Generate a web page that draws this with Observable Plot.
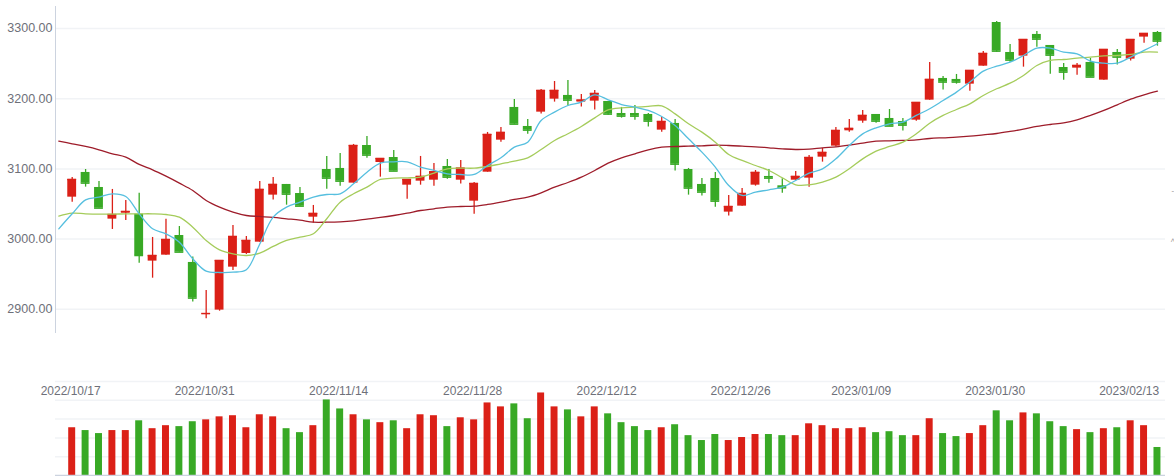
<!DOCTYPE html>
<html><head><meta charset="utf-8">
<script src="https://cdn.jsdelivr.net/npm/d3@7"></script>
<script src="https://cdn.jsdelivr.net/npm/@observablehq/plot@0.6"></script>
<style>
html,body{margin:0;padding:0;background:#fff;}
#chart{position:relative;width:1174px;height:476px;overflow:hidden;font-family:"Liberation Sans",Arial,sans-serif;}
#chart svg{position:absolute;left:0;}
</style></head><body><div id="chart"></div>
<script>
// ---- data ----
const dates = [
"2022/10/17","2022/10/18","2022/10/19","2022/10/20","2022/10/21","2022/10/24","2022/10/25","2022/10/26","2022/10/27","2022/10/28","2022/10/31",
"2022/11/01","2022/11/02","2022/11/03","2022/11/04","2022/11/07","2022/11/08","2022/11/09","2022/11/10","2022/11/11","2022/11/14","2022/11/15","2022/11/16","2022/11/17","2022/11/18","2022/11/21","2022/11/22","2022/11/23","2022/11/24","2022/11/25","2022/11/28","2022/11/29","2022/11/30",
"2022/12/01","2022/12/02","2022/12/05","2022/12/06","2022/12/07","2022/12/08","2022/12/09","2022/12/12","2022/12/13","2022/12/14","2022/12/15","2022/12/16","2022/12/19","2022/12/20","2022/12/21","2022/12/22","2022/12/23","2022/12/26","2022/12/27","2022/12/28","2022/12/29","2022/12/30",
"2023/01/03","2023/01/04","2023/01/05","2023/01/06","2023/01/09","2023/01/10","2023/01/11","2023/01/12","2023/01/13","2023/01/16","2023/01/17","2023/01/18","2023/01/19","2023/01/20","2023/01/30","2023/01/31",
"2023/02/01","2023/02/02","2023/02/03","2023/02/06","2023/02/07","2023/02/08","2023/02/09","2023/02/10","2023/02/13","2023/02/14","2023/02/15"];

const opens = [3059.7,3094.9,3073.5,3028.4,3036.9,3035.5,2968.6,2977.1,3005.1,2966.7,
2893.2,2898.8,2960.0,2979.5,2995.6,3062.6,3077.8,3064.9,3031.2,3099.1,
3100.6,3079.7,3133.3,3109.1,3116.2,3076.8,3082.5,3083.9,3103.4,3083.9,
3054.0,3095.3,3140.9,3187.5,3160.4,3180.8,3199.3,3204.6,3195.1,3196.5,
3196.0,3178.9,3178.9,3177.5,3155.2,3164.7,3099.1,3077.8,3086.3,3038.4,
3046.9,3076.8,3089.2,3075.9,3083.9,3086.8,3116.7,3132.4,3154.2,3168.0,
3177.5,3171.8,3167.5,3169.4,3197.9,3228.8,3227.4,3220.7,3246.3,3308.5,
3265.8,3260.6,3291.5,3275.8,3244.4,3243.5,3251.6,3226.4,3265.8,3256.3,
3287.7,3294.3];
const closes = [3084.9,3079.7,3044.1,3035.0,3039.3,2976.6,2976.6,2999.4,2981.4,2915.9,
2893.9,2969.5,3003.7,2998.0,3070.7,3077.8,3064.0,3046.9,3036.5,3086.8,
3082.5,3133.3,3119.6,3114.8,3096.8,3084.9,3089.2,3095.8,3088.2,3101.0,
3079.2,3149.0,3151.9,3163.7,3155.2,3211.7,3211.7,3197.9,3197.9,3207.4,
3178.0,3175.1,3175.1,3168.0,3167.5,3106.7,3072.6,3066.9,3054.0,3046.4,
3064.9,3094.9,3086.8,3073.0,3089.2,3116.2,3123.4,3154.7,3157.6,3176.1,
3168.0,3160.9,3162.3,3194.6,3227.4,3223.6,3223.6,3240.2,3264.4,3267.7,
3254.9,3284.3,3284.8,3262.0,3237.8,3247.3,3230.7,3270.1,3259.2,3284.3,
3292.9,3282.0];
const highs = [3087.7,3099.1,3082.0,3070.7,3055.0,3065.4,3002.3,3028.4,3017.9,2974.3,
2926.8,2969.5,3019.4,3003.7,3082.0,3087.7,3077.8,3073.5,3047.9,3117.7,
3121.9,3134.8,3146.2,3114.8,3126.2,3084.9,3117.7,3107.7,3113.4,3112.0,
3080.6,3151.9,3159.0,3198.9,3170.4,3213.1,3224.5,3225.9,3206.0,3211.7,
3196.0,3187.5,3190.3,3178.9,3173.2,3170.4,3100.6,3086.3,3094.9,3062.1,
3072.1,3097.7,3099.1,3085.8,3096.3,3119.1,3129.1,3159.0,3170.4,3183.2,
3177.5,3184.6,3171.8,3194.6,3251.6,3231.6,3234.5,3240.2,3267.2,3310.0,
3277.2,3284.3,3295.7,3275.8,3250.1,3250.1,3257.3,3270.1,3270.1,3284.3,
3292.9,3295.7];
const lows = [3052.6,3074.0,3044.1,3013.7,3026.5,2965.7,2944.3,2977.1,2981.4,2910.2,
2886.4,2897.3,2955.3,2978.1,2995.6,3055.5,3048.3,3046.9,3022.7,3071.1,
3075.4,3079.7,3115.3,3088.2,3096.8,3056.9,3076.8,3075.4,3085.4,3078.3,
3035.5,3095.3,3138.1,3163.7,3149.5,3178.0,3195.1,3189.4,3188.0,3183.7,
3176.5,3172.3,3169.4,3159.5,3152.3,3096.8,3062.6,3061.2,3045.5,3032.7,
3046.9,3075.4,3079.7,3065.4,3083.9,3074.0,3109.6,3131.0,3152.3,3165.1,
3165.1,3160.9,3153.8,3168.0,3197.9,3212.2,3220.7,3210.7,3246.3,3266.3,
3252.0,3244.9,3273.4,3234.9,3226.4,3233.5,3230.7,3226.4,3247.8,3253.5,
3279.1,3274.8];
const volumes = [254,239,223,239,239,291,249,265,260,286,
296,312,318,254,323,312,249,228,265,402,
354,323,296,281,291,249,323,318,260,307,
296,386,365,381,302,439,365,349,312,365,
328,281,260,239,254,270,212,186,218,186,
202,218,218,212,212,275,265,249,249,254,
228,233,212,212,302,223,207,223,265,344,
291,333,328,286,260,244,228,249,254,291,
265,149];

// moving averages, first value is the session before 2022/10/17
const ma5 = [3014.6,3036.0,3055.9,3059.7,3064.5,3060.7,3036.0,3014.6,3007.5,2995.6,2971.9,
2954.3,2952.4,2952.9,2956.2,2993.0,3031.2,3045.5,3052.6,3059.7,3063.5,
3064.5,3078.7,3095.3,3108.2,3110.1,3110.1,3102.5,3097.7,3093.0,3092.0,
3092.0,3104.8,3115.8,3131.0,3138.1,3169.0,3180.8,3190.3,3195.1,3205.5,
3198.4,3191.7,3187.9,3183.2,3174.6,3161.8,3142.8,3123.8,3102.5,3076.4,
3062.1,3066.9,3070.2,3074.0,3083.5,3093.9,3100.1,3114.3,3133.3,3149.9,
3158.5,3164.2,3166.6,3176.1,3185.6,3197.4,3209.3,3223.6,3239.2,3246.3,
3252.0,3261.5,3272.0,3272.0,3266.3,3263.9,3253.5,3250.6,3250.6,3259.2,
3268.7,3278.2];
const ma10 = [3032.7,3036.9,3036.0,3035.5,3035.5,3036.0,3036.0,3036.0,3035.0,3031.2,3017.0,
2998.0,2984.7,2979.0,2976.6,2980.0,2989.5,2998.0,3002.8,3007.5,3028.9,
3052.6,3064.5,3074.0,3084.9,3086.8,3087.3,3088.2,3093.9,3100.1,3101.0,
3101.0,3103.4,3107.2,3111.0,3115.8,3127.6,3140.5,3150.0,3160.4,3172.7,
3184.1,3187.0,3187.9,3188.9,3189.8,3178.4,3164.2,3152.3,3138.1,3120.5,
3112.0,3104.8,3097.7,3087.3,3077.3,3077.3,3081.1,3088.2,3100.1,3114.3,
3125.3,3131.9,3138.1,3150.0,3165.1,3176.1,3184.6,3192.7,3204.6,3214.1,
3222.1,3233.0,3247.3,3254.4,3255.8,3257.7,3259.2,3261.1,3261.5,3263.0,
3266.3,3266.3];
const ma60 = [3139.5,3135.7,3131.9,3127.2,3121.5,3116.7,3106.3,3098.7,3089.6,3079.7,3069.2,
3055.0,3045.5,3038.4,3033.6,3032.2,3030.8,3028.9,3027.0,3024.1,3024.1,
3024.6,3026.0,3028.4,3030.8,3033.6,3036.9,3040.7,3043.1,3045.5,3046.4,
3046.9,3049.3,3052.6,3056.4,3059.7,3065.9,3074.0,3080.6,3088.2,3097.7,
3108.2,3115.8,3121.5,3127.2,3131.0,3131.9,3132.4,3132.9,3133.8,3133.3,
3132.4,3131.4,3130.0,3128.6,3127.6,3128.1,3130.0,3131.4,3133.8,3136.7,
3139.5,3140.0,3140.5,3141.4,3143.3,3144.3,3145.2,3146.6,3148.5,3150.4,
3153.3,3156.6,3160.4,3163.2,3165.6,3169.9,3176.1,3183.2,3191.3,3199.3,
3205.5,3210.7];

const priceTicks = [2900, 3000, 3100, 3200, 3300];
const dateTicks = ["2022/10/17","2022/10/31","2022/11/14","2022/11/28","2022/12/12","2022/12/26","2023/01/09","2023/01/30","2023/02/13"];
const volTicks = [100, 200, 300, 400, 500];
const edgeMarks = [{v: 3064.9, t: "ˇ"}, {v: 2998.0, t: "˄"}];

// ---- build ----
const UP = "#db2017", DOWN = "#38a925";
const TXT = "#6e7079", GRID = "#f1f3f6", AXIS = "#ccd3df";
const xDomain = [-1.246, 81.6];

const candles = dates.map((d, i) => ({i, date: d, open: opens[i], close: closes[i], high: highs[i], low: lows[i], vol: volumes[i], up: closes[i] >= opens[i]}));
const maRows = ma5.map((v, k) => ({i: k - 1, ma5: v, ma10: ma10[k], ma60: ma60[k]}));
const col = d => d.up ? UP : DOWN;
const bw = 0.33, vw = 0.26;

const price = Plot.plot({
  width: 1174, height: 340,
  marginLeft: 55, marginRight: 9, marginTop: 6, marginBottom: 7,
  style: {fontFamily: '"Liberation Sans", Arial, sans-serif', background: "transparent"},
  x: {domain: xDomain, axis: null},
  y: {domain: [2865.5, 3331.3], axis: null},
  marks: [
    Plot.ruleY(priceTicks, {stroke: GRID, strokeWidth: 1.5}),
    Plot.ruleX([xDomain[0]], {stroke: AXIS, strokeWidth: 1}),
    Plot.axisY({ticks: priceTicks, tickFormat: d => d.toFixed(2), tickSize: 0, tickPadding: 3, fontSize: 12.5, color: TXT}),
    Plot.ruleX(candles, {x: "i", y1: "low", y2: "high", stroke: col, strokeWidth: 1.3}),
    Plot.rect(candles, {x1: d => d.i - bw, x2: d => d.i + bw, y1: "open", y2: "close", fill: col}),
    Plot.ruleY(candles, {y: "close", x1: d => d.i - bw, x2: d => d.i + bw, stroke: col, strokeWidth: 1.5}),
    Plot.line(maRows, {x: "i", y: "ma60", stroke: "#9e1c2a", strokeWidth: 1.3, curve: "catmull-rom"}),
    Plot.line(maRows, {x: "i", y: "ma10", stroke: "#a5cc5b", strokeWidth: 1.3, curve: "catmull-rom"}),
    Plot.line(maRows, {x: "i", y: "ma5", stroke: "#56bfdf", strokeWidth: 1.3, curve: "catmull-rom"}),
    Plot.text(edgeMarks, {x: 82.15, y: "v", text: "t", fill: "#9a9a9a", fontSize: 8})
  ]
});
price.style.top = "0px";

const vol = Plot.plot({
  width: 1174, height: 136,
  marginLeft: 55, marginRight: 9, marginTop: 41, marginBottom: 1,
  style: {fontFamily: '"Liberation Sans", Arial, sans-serif', background: "transparent"},
  x: {domain: xDomain, axis: null},
  y: {domain: [0, 500], axis: null},
  marks: [
    Plot.ruleY(volTicks, {stroke: GRID, strokeWidth: 1.5}),
    Plot.rect(candles, {x1: d => d.i - vw, x2: d => d.i + vw, y1: 0, y2: "vol", fill: col}),
    Plot.ruleY([0], {stroke: AXIS, strokeWidth: 1.5}),
    Plot.text(dateTicks, {x: d => dates.indexOf(d), text: d => d, frameAnchor: "top", dy: 5, dx: -1.5, fill: TXT, fontSize: 12, style: "letter-spacing:0.5px"})
  ]
});
vol.style.top = "340px";

const root = document.getElementById("chart");
root.append(price, vol);
</script>
</body></html>
